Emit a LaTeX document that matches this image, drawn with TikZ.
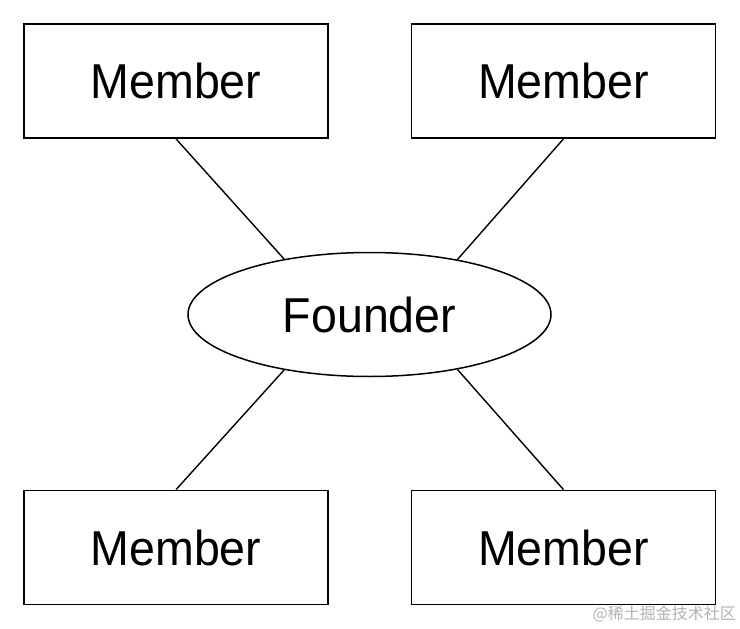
\documentclass[tikz,border=0pt]{standalone}
\usepackage{fontspec}
\setmainfont{Liberation Sans}[FakeStretch=0.95]
\newfontfamily\cjk{Noto Sans CJK SC}
\usetikzlibrary{shapes.geometric}
\tikzset{
  member/.style={draw, line width=1.7pt, rectangle, minimum width=304pt, minimum height=114pt, inner sep=0pt, font=\fontsize{49}{55}\selectfont},
  founder/.style={draw, line width=1.5pt, ellipse, minimum width=363pt, minimum height=124pt, inner sep=0pt, font=\fontsize{49}{55}\selectfont},
  link/.style={line width=1.4pt},
  wm/.style={text=black!30, font=\cjk\fontsize{16}{18}\selectfont, anchor=east, inner sep=0pt}
}
\begin{document}
\begin{tikzpicture}[x=1pt,y=-1pt]
\useasboundingbox (0,0) rectangle (740,629);
\node[member] (m1) at (176,81) {Member};
\node[member] (m2) at (563.5,81) {Member};
\node[member] (m3) at (176,547.5) {Member};
\node[member] (m4) at (563.5,547.5) {Member};
\node[founder] (f) at (369.5,314.5) {Founder};
\draw[link] (m1.south) -- (f.147.7);
\draw[link] (m2.south) -- (f.32.3);
\draw[link] (m3.north) -- (f.-147.7);
\draw[link] (m4.north) -- (f.-32.3);
\node[wm] (w) at (736,614) {@稀土掘金技术社区};
\end{tikzpicture}
\end{document}
